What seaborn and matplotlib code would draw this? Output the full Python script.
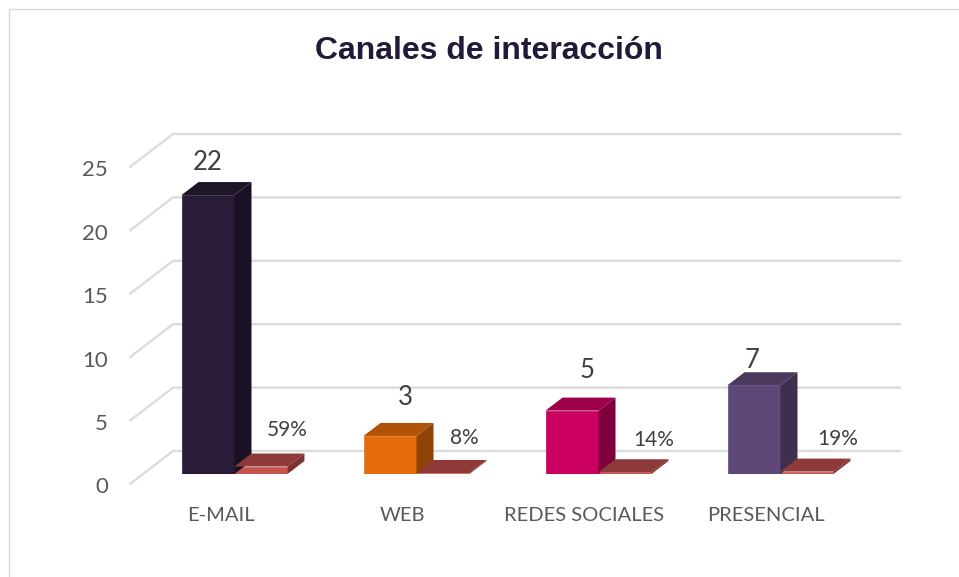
import pandas as pd
import matplotlib.pyplot as plt
from matplotlib.lines import Line2D
from matplotlib.patches import Polygon
from matplotlib.transforms import IdentityTransform, ScaledTranslation
import seaborn as sns

# Chart values
canales = ['E-MAIL', 'WEB', 'REDES SOCIALES', 'PRESENCIAL']
cantidad = [22, 3, 5, 7]
porcentaje = [0.59, 0.08, 0.14, 0.19]
etiquetas_cantidad = ['22', '3', '5', '7']
etiquetas_porcentaje = ['59%', '8%', '14%', '19%']
ticks_y = [0, 5, 10, 15, 20, 25]

# Colours per bar: front, top, side
colores_cantidad = [('#2a1c38', '#1e1529', '#1a1224'),
                    ('#e56c0a', '#b05307', '#8f4306'),
                    ('#cc0060', '#9b0049', '#7f003c'),
                    ('#5f4878', '#4b395f', '#3e2f4f')]
colores_porcentaje = ('#c9544f', '#8e3a38', '#7c322f')

# Label offsets from the top of each bar, pixels
offset_cantidad = [(0, 33), (15, 38), (15, 40), (-2, 25)]
offset_porcentaje = [(26, 37), (21, 35), (29, 32), (31, 33)]

W, H = 959, 577
DX, DY = 17, 13       # bar depth
WALL_DX, WALL_DY = 43, 33   # wall depth

sns.set_theme(style='white')
plt.rcParams['font.family'] = ['Lato', 'DejaVu Sans']

fig = plt.figure(figsize=(W / 100, H / 100), dpi=100)

# Front plane of the wall, carries the axis labels
ax = fig.add_axes([130 / W, (H - 484) / H, 727 / W, 317 / H])
# Plane of the bars
ax_bars = fig.add_axes([143.5 / W, (H - 474) / H, 728 / W, 317 / H])
ax_bars.patch.set_alpha(0)

ax.set_xlim(-0.5, 3.5)
ax.set_ylim(0, 25)
ax.set_xticks(range(len(canales)), canales)
ax.set_yticks(ticks_y)
ax.tick_params(axis='x', length=0, pad=16.5, labelsize=14.5, labelcolor='#595959')
ax.tick_params(axis='y', length=0, pad=16, labelsize=16, labelcolor='#595959')
sns.despine(ax=ax, left=True, bottom=True, top=True, right=True)
baja = ScaledTranslation(0, -1 / 72, fig.dpi_scale_trans)
for label in ax.get_yticklabels():
    label.set_transform(label.get_transform() + baja)

# Gridlines on the back wall and floor/side diagonals
for v in ticks_y:
    x0, y0 = ax.transData.transform((-0.5, v))
    x1, y1 = ax.transData.transform((3.5, v))
    ax.add_line(Line2D([x0, x0 + WALL_DX, x1 + WALL_DX], [y0, y0 + WALL_DY, y1 + WALL_DY],
                       color='#dcdcdc', lw=1.7, transform=IdentityTransform(), clip_on=False))

df = pd.DataFrame({'canal': canales * 2,
                   'valor': cantidad + porcentaje,
                   'serie': ['cantidad'] * 4 + ['porcentaje'] * 4})
sns.barplot(data=df, x='canal', y='valor', hue='serie', dodge=True, width=0.582, gap=0,
            legend=False, ax=ax_bars)
ax_bars.set_xlim(-0.5, 3.5)
ax_bars.set_ylim(0, 25)
ax_bars.axis('off')


def extruir(patch, frente, arriba, lado):
    patch.set_facecolor(frente)
    patch.set_edgecolor(frente)
    patch.set_linewidth(0.5)
    x, y = patch.get_x(), patch.get_height()
    (x0, y1) = ax_bars.transData.transform((x, y))
    (x1, y0) = ax_bars.transData.transform((x + patch.get_width(), 0))
    tapa = [(x0, y1), (x1, y1), (x1 + DX, y1 + DY), (x0 + DX, y1 + DY)]
    costado = [(x1, y0), (x1 + DX, y0 + DY), (x1 + DX, y1 + DY), (x1, y1)]
    for pts, col in ((tapa, arriba), (costado, lado)):
        ax_bars.add_patch(Polygon(pts, closed=True, facecolor=col, edgecolor='none',
                                  transform=IdentityTransform(), clip_on=False,
                                  zorder=patch.get_zorder()))


for patch, cols in zip(ax_bars.containers[0], colores_cantidad):
    extruir(patch, *cols)
for patch in ax_bars.containers[1]:
    extruir(patch, *colores_porcentaje)

for patch, txt, off in zip(ax_bars.containers[0], etiquetas_cantidad, offset_cantidad):
    ax_bars.annotate(txt, (patch.get_x() + patch.get_width() / 2, patch.get_height()),
                     xytext=off, textcoords='offset pixels', ha='center', va='center',
                     fontsize=18.5, color='#404040', annotation_clip=False)
for patch, txt, off in zip(ax_bars.containers[1], etiquetas_porcentaje, offset_porcentaje):
    ax_bars.annotate(txt, (patch.get_x() + patch.get_width() / 2, patch.get_height()),
                     xytext=off, textcoords='offset pixels', ha='center', va='center',
                     fontsize=15, color='#404040', annotation_clip=False)

fig.text(489 / W, 1 - 51 / H, 'Canales de interacción', ha='center', va='center',
         fontsize=23, fontweight='bold', color='#231a3a',
         family=['Liberation Sans', 'DejaVu Sans'])

# Chart frame
fig.add_artist(Line2D([9 / W, 9 / W, 1], [0, 1 - 9 / H, 1 - 9 / H], color='#d9d9d9', lw=1))

fig.savefig('out.png', dpi=100)
